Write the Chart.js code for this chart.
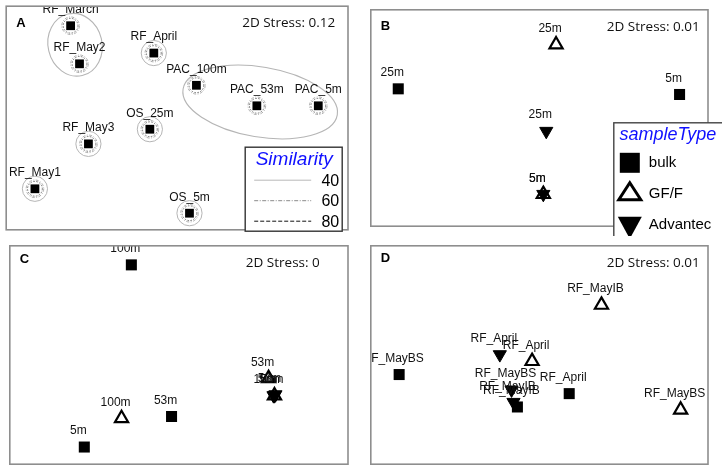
<!DOCTYPE html>
<html><head><meta charset="utf-8">
<script src="https://cdn.jsdelivr.net/npm/chart.js@4.4.0/dist/chart.umd.min.js"></script>
<style>
html,body{margin:0;padding:0;background:#fff;width:722px;height:474px;overflow:hidden}
canvas{position:absolute}
</style></head><body>
<canvas id="cA" style="left:0px;top:0px" width="361" height="236"></canvas>
<canvas id="cB" style="left:361px;top:0px" width="361" height="236"></canvas>
<canvas id="cC" style="left:0px;top:236px" width="361" height="238"></canvas>
<canvas id="cD" style="left:361px;top:236px" width="361" height="238"></canvas>
<script>
// ---------- DATA (nMDS coordinates, arbitrary units) ----------
// Panel A : all bulk samples
const aNames = ['RF_March','RF_May2','RF_April','PAC_100m','PAC_53m','PAC_5m','OS_25m','RF_May3','RF_May1','OS_5m'];
const aX = [65, 74, 149, 192, 253, 315, 145, 83, 29, 185];
const aY = [209, 170, 181, 148, 127, 127, 103, 88, 42, 17];
const aClusters40 = [['RF_March','RF_May2'], ['PAC_100m','PAC_53m','PAC_5m']];
const simLevels = ['40', '60', '80'];
// Panel B
const bBulkNames = ['25m','5m'], bBulkX = [28, 315], bBulkY = [146, 140];
const bGffNames  = ['25m','5m'], bGffX  = [189, 176], bGffY  = [193, 34];
const bAdvNames  = ['25m','5m'], bAdvX  = [179, 176], bAdvY  = [101, 34];
// Panel C
const cBulkNames = ['100m','53m','5m'], cBulkX = [124, 165, 76], cBulkY = [209, 50, 18];
const cGffNames  = ['100m','53m','5m'], cGffX  = [114, 264, 270], cGffY  = [48, 90, 72];
const cAdvNames  = ['100m','53m','5m'], cAdvX  = [270, 271, 269], cAdvY  = [72, 73, 72];
// Panel D
const dBulkNames = ['RF_MayBS','RF_April','RF_MayIB'], dBulkX = [29, 203, 150], dBulkY = [94, 74, 60];
const dGffNames  = ['RF_MayIB','RF_April','RF_MayBS'], dGffX  = [236, 165, 317], dGffY  = [167, 108, 57];
const dAdvNames  = ['RF_April','RF_MayBS','RF_MayIB'], dAdvX  = [132, 144, 146], dAdvY  = [115, 78, 65];
const sampleTypes = ['bulk', 'GF/F', 'Advantec'];
const stressValues = ['0.12', '0.01', '0', '0.01'];
const panelLetters = ['A', 'B', 'C', 'D'];

// ---------- STYLE ----------
const LABEL_FONT = '12px "Liberation Sans", Arial, sans-serif';
const STRESS_FONT = '13.5px "Open Sans", sans-serif';
const LETTER_FONT = 'bold 13px "Liberation Sans", Arial, sans-serif';

function pts(xs, ys, names) { return xs.map((x, i) => ({ x: x, y: ys[i], name: names[i] })); }

const MARK = {
  bulk: { pointStyle: 'rect', pointRadius: 7.8, pointBackgroundColor: '#000', pointBorderColor: '#000', pointBorderWidth: 0, pointRotation: 0 },
  bulkA: { pointStyle: 'rect', pointRadius: 6.2, pointBackgroundColor: '#000', pointBorderColor: '#000', pointBorderWidth: 0, pointRotation: 0 },
  gff: { pointStyle: 'triangle', pointRadius: 7.6, pointBackgroundColor: 'rgba(255,255,255,0)', pointBorderColor: '#000', pointBorderWidth: 2.2, pointRotation: 0 },
  adv: { pointStyle: 'triangle', pointRadius: 7.6, pointBackgroundColor: '#000', pointBorderColor: '#000', pointBorderWidth: 1, pointRotation: 180 }
};

function ds(label, data, style) {
  return Object.assign({ label: label, data: data, clip: false, pointHoverRadius: style.pointRadius }, style);
}

function circle(ctx, x, y, r, color, dash, lw) {
  ctx.save();
  ctx.beginPath();
  ctx.setLineDash(dash);
  ctx.strokeStyle = color;
  ctx.lineWidth = lw;
  ctx.arc(x, y, r, 0, Math.PI * 2);
  ctx.stroke();
  ctx.restore();
}

function drawSimilarityLegend(ctx, ca) {
  const x0 = ca.left + 239, y0 = ca.top + 141, w = 97, h = 84;
  ctx.save();
  ctx.fillStyle = '#fff';
  ctx.fillRect(x0, y0, w, h);
  ctx.strokeStyle = '#333';
  ctx.lineWidth = 1.4;
  ctx.strokeRect(x0, y0, w, h);
  ctx.fillStyle = '#1010ff';
  ctx.font = 'italic 19px "Liberation Sans", Arial, sans-serif';
  ctx.textAlign = 'center';
  ctx.textBaseline = 'middle';
  ctx.fillText('Similarity', x0 + 49, y0 + 13);
  const styles = [
    { c: '#b8b8b8', d: [], lw: 1 },
    { c: '#8a8a8a', d: [4, 1.5, 1, 1.5], lw: 1 },
    { c: '#111', d: [4, 2], lw: 1 }
  ];
  ctx.font = '16px "Liberation Sans", Arial, sans-serif';
  ctx.textAlign = 'right';
  simLevels.forEach((lv, i) => {
    const yy = y0 + 33 + i * 20.5;
    ctx.beginPath();
    ctx.setLineDash(styles[i].d);
    ctx.strokeStyle = styles[i].c;
    ctx.lineWidth = styles[i].lw;
    ctx.moveTo(x0 + 9, yy);
    ctx.lineTo(x0 + 66, yy);
    ctx.stroke();
    ctx.setLineDash([]);
    ctx.fillStyle = '#000';
    ctx.fillText(lv, x0 + 94, yy + 1);
  });
  ctx.restore();
}

function drawSampleLegend(ctx, ca) {
  const x0 = ca.left + 243, y0 = ca.top + 113, w = 109, h = 117;
  ctx.save();
  ctx.fillStyle = '#fff';
  ctx.fillRect(x0, y0, w, h);
  ctx.strokeStyle = '#444';
  ctx.lineWidth = 1.4;
  ctx.strokeRect(x0, y0, w, h);
  ctx.fillStyle = '#1010ff';
  ctx.font = 'italic 18px "Liberation Sans", Arial, sans-serif';
  ctx.textAlign = 'center';
  ctx.textBaseline = 'middle';
  ctx.fillText('sampleType', x0 + 54, y0 + 12);
  ctx.fillStyle = '#000';
  ctx.fillRect(x0 + 6, y0 + 30, 20, 20);
  ctx.beginPath();
  ctx.moveTo(x0 + 16, y0 + 60);
  ctx.lineTo(x0 + 27, y0 + 77);
  ctx.lineTo(x0 + 5, y0 + 77);
  ctx.closePath();
  ctx.lineWidth = 3;
  ctx.lineJoin = 'miter';
  ctx.strokeStyle = '#000';
  ctx.stroke();
  ctx.beginPath();
  ctx.moveTo(x0 + 4, y0 + 94);
  ctx.lineTo(x0 + 28, y0 + 94);
  ctx.lineTo(x0 + 16, y0 + 116);
  ctx.closePath();
  ctx.fill();
  ctx.font = '15px "Liberation Sans", Arial, sans-serif';
  ctx.textAlign = 'left';
  ctx.fillText(sampleTypes[0], x0 + 35, y0 + 40);
  ctx.fillText(sampleTypes[1], x0 + 35, y0 + 71);
  ctx.fillText(sampleTypes[2], x0 + 35, y0 + 102);
  ctx.restore();
}

function makePanel(id, p) {
  const plugin = {
    id: 'panel' + id,
    beforeDatasetsDraw(chart) {
      if (!p.rings) return;
      const ctx = chart.ctx;
      const els = chart.getDatasetMeta(0).data;
      const names = chart.data.datasets[0].data.map(d => d.name);
      const inCluster = n => aClusters40.some(g => g.indexOf(n) >= 0);
      els.forEach((el, i) => {
        circle(ctx, el.x, el.y, 7.4, '#555', [1.6, 1.4], 0.8);
        circle(ctx, el.x, el.y, 8.8, '#9a9a9a', [3, 1.5, 1, 1.5], 0.8);
        if (!inCluster(names[i])) circle(ctx, el.x, el.y, 12.6, '#b5b5b5', [], 1);
      });
      const pads = [[12, 27], [16, 35]];
      const offs = [[0, 0], [3, 3]];
      aClusters40.forEach((g, gi) => {
        const P = g.map(n => els[names.indexOf(n)]);
        const mx = P.reduce((s, e) => s + e.x, 0) / P.length;
        const my = P.reduce((s, e) => s + e.y, 0) / P.length;
        const a = Math.atan2(P[P.length - 1].y - P[0].y, P[P.length - 1].x - P[0].x);
        let half = 0;
        P.forEach(e => { half = Math.max(half, Math.abs((e.x - mx) * Math.cos(a) + (e.y - my) * Math.sin(a))); });
        ctx.save();
        ctx.beginPath();
        ctx.ellipse(mx + offs[gi][0], my + offs[gi][1], half + pads[gi][0], pads[gi][1], a, 0, Math.PI * 2);
        ctx.strokeStyle = '#b5b5b5';
        ctx.lineWidth = 1.1;
        ctx.stroke();
        ctx.restore();
      });
    },
    afterDatasetsDraw(chart) {
      const ctx = chart.ctx, ca = chart.chartArea;
      ctx.save();
      ctx.beginPath();
      ctx.rect(ca.left, ca.top, ca.right - ca.left, ca.bottom - ca.top);
      ctx.clip();
      ctx.font = LABEL_FONT;
      ctx.fillStyle = '#111';
      ctx.textAlign = 'center';
      ctx.textBaseline = 'middle';
      chart.data.datasets.forEach((d, di) => {
        chart.getDatasetMeta(di).data.forEach((el, i) => {
          ctx.fillText(d.data[i].name, el.x + p.ldx, el.y + p.ldy);
        });
      });
      ctx.restore();
    },
    afterDraw(chart) {
      const ctx = chart.ctx, ca = chart.chartArea;
      ctx.save();
      ctx.strokeStyle = '#8e8e8e';
      ctx.lineWidth = 1.6;
      ctx.strokeRect(ca.left, ca.top, ca.right - ca.left, ca.bottom - ca.top);
      ctx.fillStyle = '#000';
      ctx.font = LETTER_FONT;
      ctx.textAlign = 'left';
      ctx.textBaseline = 'middle';
      ctx.fillText(p.letter, ca.left + 10, ca.top + p.letterDy);
      ctx.font = STRESS_FONT;
      ctx.fillStyle = '#111';
      ctx.fillText('2D Stress: ' + p.stress, ca.left + 236, ca.top + 17);
      ctx.restore();
      if (p.simLegend) drawSimilarityLegend(ctx, ca);
      if (p.typeLegend) drawSampleLegend(ctx, ca);
    }
  };
  return new Chart(document.getElementById(id), {
    type: 'scatter',
    data: { datasets: p.datasets },
    options: {
      responsive: false,
      animation: false,
      events: [],
      devicePixelRatio: 1,
      layout: { padding: p.pad },
      plugins: { legend: { display: false }, tooltip: { enabled: false }, title: { display: false } },
      scales: {
        x: { type: 'linear', display: false, min: 0, max: p.w },
        y: { type: 'linear', display: false, min: 0, max: p.h }
      }
    },
    plugins: [plugin]
  });
}

makePanel('cA', {
  datasets: [ds('bulk', pts(aX, aY, aNames), MARK.bulkA)],
  pad: { left: 3, top: 3, right: 13, bottom: 4 }, w: 345, h: 229,
  rings: true, simLegend: true, letter: panelLetters[0], letterDy: 17, stress: stressValues[0], ldx: 0, ldy: -16
});
makePanel('cB', {
  datasets: [ds('bulk', pts(bBulkX, bBulkY, bBulkNames), MARK.bulk),
             ds('GF/F', pts(bGffX, bGffY, bGffNames), MARK.gff),
             ds('Advantec', pts(bAdvX, bAdvY, bAdvNames), MARK.adv)],
  pad: { left: 3, top: 3, right: 14, bottom: 3 }, w: 344, h: 230,
  typeLegend: true, letter: panelLetters[1], letterDy: 17, stress: stressValues[1], ldx: -6, ldy: -16
});
makePanel('cC', {
  datasets: [ds('bulk', pts(cBulkX, cBulkY, cBulkNames), MARK.bulk),
             ds('GF/F', pts(cGffX, cGffY, cGffNames), MARK.gff),
             ds('Advantec', pts(cAdvX, cAdvY, cAdvNames), MARK.adv)],
  pad: { left: 3, top: 2, right: 13, bottom: 7 }, w: 345, h: 229,
  letter: panelLetters[2], letterDy: 14, stress: stressValues[2], ldx: -6, ldy: -16
});
makePanel('cD', {
  datasets: [ds('bulk', pts(dBulkX, dBulkY, dBulkNames), MARK.bulk),
             ds('GF/F', pts(dGffX, dGffY, dGffNames), MARK.gff),
             ds('Advantec', pts(dAdvX, dAdvY, dAdvNames), MARK.adv)],
  pad: { left: 2, top: 2, right: 14, bottom: 7 }, w: 345, h: 229,
  letter: panelLetters[3], letterDy: 13, stress: stressValues[3], ldx: -6, ldy: -16
});
</script>
</body></html>
